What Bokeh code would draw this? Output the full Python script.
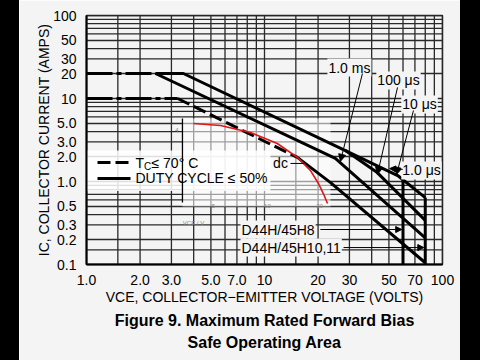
from bokeh.plotting import figure
from bokeh.layouts import row
from bokeh.models import Label, Arrow, NormalHead, Title, FixedTicker, Div
from bokeh.embed import file_html
from bokeh.resources import INLINE

# ---- tick labels ----
x_ticks = [1, 2, 3, 5, 7, 10, 20, 30, 50, 70, 100]
x_tick_labels = ["1.0", "2.0", "3.0", "5.0", "7.0", "10", "20", "30", "50", "70", "100"]
y_ticks = [0.1, 0.2, 0.3, 0.5, 1, 2, 3, 5, 10, 20, 30, 50, 100]
y_tick_labels = ["0.1", "0.2", "0.3", "0.5", "1.0", "2.0", "3.0", "5.0", "10", "20", "30", "50", "100"]

# log-paper grid
grid_v = [1, 1.5, 2, 3, 4, 5, 6, 7, 8, 9, 10, 15, 20, 30, 40, 50, 60, 70, 80, 90, 100]
grid_i = [0.1, 0.15, 0.2, 0.3, 0.4, 0.5, 0.6, 0.7, 0.8, 0.9, 1, 2, 3, 4, 5, 6, 7, 8, 9,
          10, 20, 30, 40, 50, 60, 70, 80, 90, 100]

# ---- SOA curves (V, A) ----
pulse_limit_v = [1.0, 2.44]          # 20 A limit (dash-dot)
pulse_limit_i = [20, 20]
dc_limit_v = [1.0, 3.25]             # 10 A limit (dash-dot)
dc_limit_i = [10, 10]
dc_thermal_v = [3.25, 15.3]          # Tc <= 70 C thermal (dashed)
dc_thermal_i = [10, 1.95]
dc_sb_v = [15.3, 23.5, 80]           # dc second breakdown
dc_sb_i = [1.95, 0.97, 0.105]
ms1_v = [2.44, 25.0, 80]             # 1.0 ms
ms1_i = [20, 1.9, 0.21]
us1_v = [2.44, 3.5, 28.5, 56, 80]    # 1.0 us / 10 us
us1_i = [20, 20, 2.36, 1.18, 0.64]
us100_v = [28.5, 43, 80]             # 100 us
us100_i = [2.36, 1.28, 0.34]
h8_v = [60, 60]                      # D44H/45H8 BVceo
h8_i = [1.05, 0.1]
h10_v = [80, 80]                     # D44H/45H10,11 BVceo
h10_i = [0.64, 0.1]

# overlaid red curve
red_v = [3.99, 5.66, 8.34, 11.8, 15.3, 18.1, 20.1, 21.4, 22.6]
red_i = [5.0, 4.73, 3.89, 2.87, 1.95, 1.36, 0.946, 0.716, 0.543]

FONT = "Liberation Sans"
BG = "#f4f4f4"

p = figure(width=441, height=360, x_axis_type="log", y_axis_type="log",
           x_range=(1, 100), y_range=(0.1, 100),
           output_backend="svg", toolbar_location=None,
           min_border_left=67, min_border_right=18, min_border_top=15, min_border_bottom=96)
p.background_fill_color = BG
p.border_fill_color = BG
p.grid.visible = False
p.outline_line_color = "#222222"
p.outline_line_width = 1.5

for ax, ticks, labels in ((p.xaxis, x_ticks, x_tick_labels), (p.yaxis, y_ticks, y_tick_labels)):
    ax.ticker = FixedTicker(ticks=ticks)
    ax.major_label_overrides = dict(zip(ticks, labels))
    ax.major_tick_line_color = None
    ax.minor_tick_line_color = None
    ax.axis_line_width = 2
    ax.axis_line_color = "black"
    ax.major_label_text_font = FONT
    ax.major_label_text_font_size = "14px"
    ax.major_label_text_color = "black"
    ax.major_label_standoff = 4
    ax.axis_label_text_font = FONT
    ax.axis_label_text_font_size = "14px"
    ax.axis_label_text_font_style = "normal"
    ax.axis_label_text_color = "black"
    ax.axis_label_standoff = 1
p.yaxis.axis_label_standoff = -2

p.xaxis.axis_label = "VCE, COLLECTOR\u2212EMITTER VOLTAGE (VOLTS)"
p.yaxis.axis_label = "IC, COLLECTOR CURRENT (AMPS)"

# grid lines
p.multi_line(xs=[[v, v] for v in grid_v], ys=[[0.1, 100] for _ in grid_v],
             line_color="#2a2a2a", line_width=1.3)
p.multi_line(xs=[[1, 100] for _ in grid_i], ys=[[i, i] for i in grid_i],
             line_color="#2a2a2a", line_width=1.3)

# translucent overlay panels (pasted inset and legend area)
p.quad(left=[3.46], right=[23.5], top=[5.74], bottom=[0.5], fill_color="white",
       fill_alpha=0.55, line_color=None)
p.quad(left=[1.0], right=[10.8], top=[2.36], bottom=[0.77], fill_color="white",
       fill_alpha=0.85, line_color=None)

# curves
p.line(pulse_limit_v, pulse_limit_i, line_color="black", line_width=3, line_dash="26 4 5 4")
p.line(dc_limit_v, dc_limit_i, line_color="black", line_width=3, line_dash="26 4 5 4")
p.line(dc_thermal_v, dc_thermal_i, line_color="black", line_width=3, line_dash="13 5")
for xs, ys in ((dc_sb_v, dc_sb_i), (ms1_v, ms1_i), (us1_v, us1_i), (us100_v, us100_i),
               (h8_v, h8_i), (h10_v, h10_i)):
    p.line(xs, ys, line_color="black", line_width=3)

# inset axis line and red curve
p.line([3.46, 3.46], [5.74, 0.56], line_color="black", line_width=1.3)
p.line(red_v, red_i, line_color="#e01515", line_width=1.6)

def lab(x, y, text, size="14px", align="center", baseline="middle", bg=None, color="black",
        xo=0, yo=0, style="normal"):
    l = Label(x=x, y=y, text=text, text_font=FONT, text_font_size=size, text_align=align,
              text_baseline=baseline, text_color=color, x_offset=xo, y_offset=yo,
              text_font_style=style)
    if bg is not None:
        l.background_fill_color = bg
        l.background_fill_alpha = 1.0
        l.padding = 1
    p.add_layout(l)

def arrow(x0, y0, x1, y1, size=7):
    p.add_layout(Arrow(x_start=x0, y_start=y0, x_end=x1, y_end=y1, line_width=1,
                       line_color="black",
                       end=NormalHead(size=size, fill_color="black", line_color="black")))

# pulse labels
lab(30.0, 23.6, "1.0 ms", bg=BG)
arrow(35.5, 20.0, 26.7, 1.75)
lab(56.6, 16.5, "100 \u03bcs", bg=BG)
arrow(55.9, 13.6, 43.1, 1.22)
lab(74.3, 8.47, "10 \u03bcs", bg=BG)
arrow(68.7, 7.17, 55.2, 1.22)
lab(76.2, 1.36, "1.0 \u03bcs", bg=BG)
arrow(59.8, 1.4, 50.5, 1.43, size=6)

# dc label + leader
lab(12.3, 1.69, "dc")
p.line([14.0, 16.6], [1.65, 1.65], line_color="black", line_width=1)

# device labels + leaders
lab(7.33, 0.264, "D44H/45H8", align="left", bg=BG)
arrow(20.6, 0.264, 59.0, 0.264, size=6)
lab(7.33, 0.160, "D44H/45H10,11", align="left", bg=BG)
arrow(27.8, 0.160, 78.5, 0.160, size=6)

# legend
p.line([1.153, 1.767], [1.69, 1.69], line_color="black", line_width=3, line_dash="13 5")
p.line([1.153, 1.767], [1.087, 1.087], line_color="black", line_width=3)
lab(1.885, 1.69, "T", align="left")
lab(1.885, 1.69, "C", align="left", size="10px", xo=8.6, yo=-4)
lab(1.885, 1.69, "\u2264 70\u00b0 C", align="left", xo=16)
lab(1.885, 1.087, "DUTY CYCLE \u2264 50%", align="left")

# tiny inset texts
lab(3.29, 4.12, "4", size="6px", align="right", color="#888888")
lab(5.17, 0.5, "5", size="6px", color="#888888")
lab(10.39, 0.5, "10", size="6px", color="#888888")
lab(20.4, 0.5, "20", size="6px", color="#888888")
lab(3.99, 0.32, "VCE / V", size="6px", color="#888888")

# caption
p.add_layout(Title(text="Figure 9. Maximum Rated Forward Bias", align="center", text_font=FONT,
                   text_font_size="16px", text_font_style="bold", text_color="black",
                   standoff=4), "below")
p.add_layout(Title(text="Safe Operating Area", align="center", text_font=FONT,
                   text_font_size="16px", text_font_style="bold", text_color="black",
                   standoff=3), "below")

# black video-frame side bars
left_bar = Div(text="", width=19, height=360, margin=0, styles={"background-color": "black"})
right_bar = Div(text="", width=20, height=360, margin=0, styles={"background-color": "black"})

layout = row(left_bar, p, right_bar)
open("out.html", "w").write(file_html(layout, INLINE))
